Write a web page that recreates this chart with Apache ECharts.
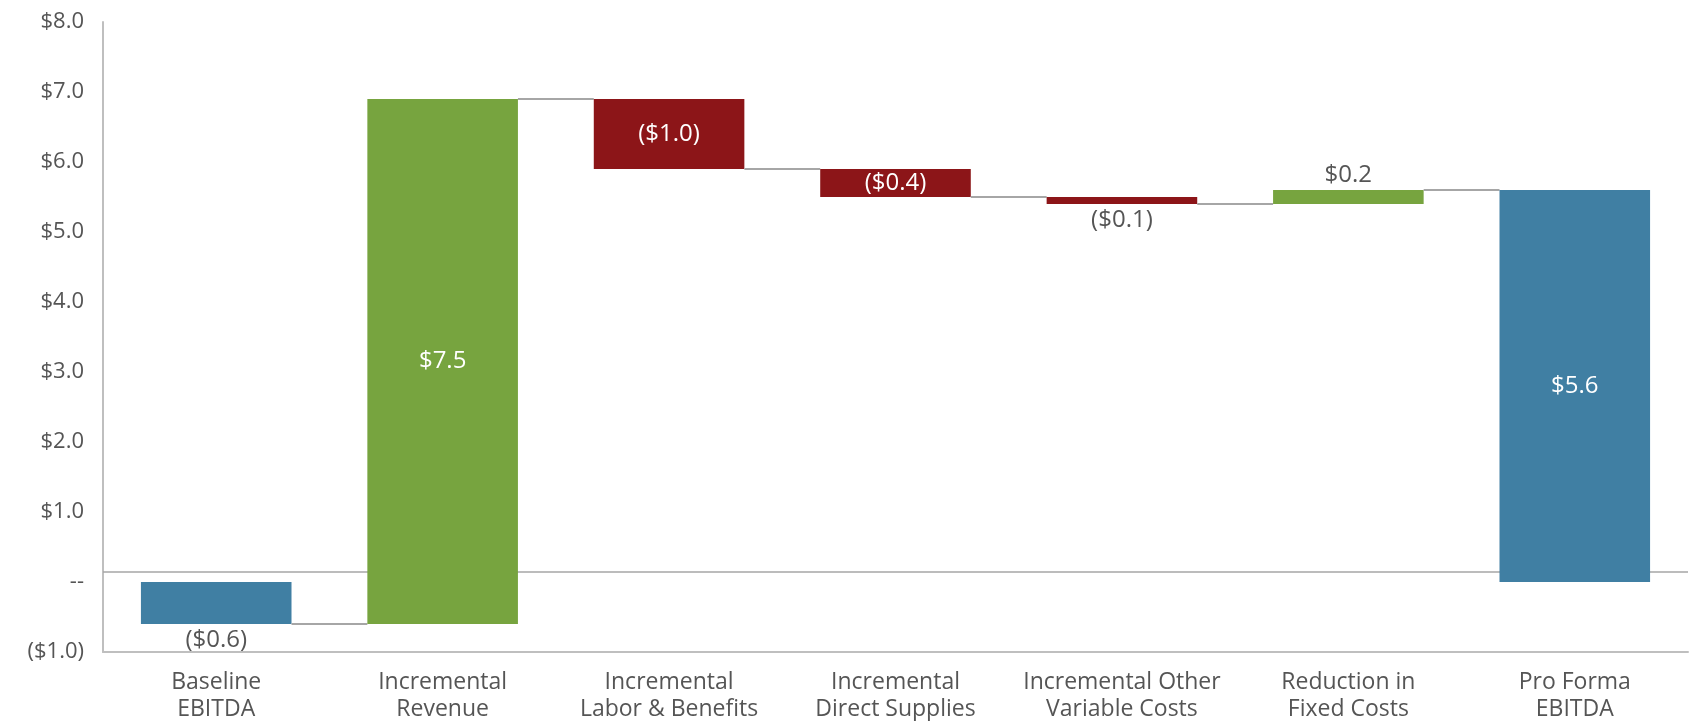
<!DOCTYPE html>
<html>
<head>
<meta charset="utf-8">
<script src="https://cdn.jsdelivr.net/npm/echarts@6/dist/echarts.min.js"></script>
<style>
html,body{margin:0;padding:0;background:#fff;}
#chart{width:1699px;height:721px;}
</style>
</head>
<body>
<div id="chart"></div>
<script>
// ---- data ----
const categories = ['Baseline\nEBITDA', 'Incremental\nRevenue', 'Incremental\nLabor & Benefits', 'Incremental\nDirect Supplies', 'Incremental Other\nVariable Costs', 'Reduction in\nFixed Costs', 'Pro Forma\nEBITDA'];
const values = [-0.6, 7.5, -1.0, -0.4, -0.1, 0.2, 5.6];
const kinds = ['total', 'delta', 'delta', 'delta', 'delta', 'delta', 'total'];
const labelPlacement = ['below', 'inside', 'inside', 'inside', 'below', 'above', 'inside'];
const yTicks = { min: -1, max: 8, interval: 1 };
const refLineValue = [0.14];

// ---- styling ----
const COLORS = { total: '#407FA3', up: '#77A43F', down: '#8C1518' };
const TEXT = '#555555';
const FONT = '"Open Sans", "Noto Sans", sans-serif';

// build waterfall rows: [index, low, high, endLevel, value]
let running = 0;
const rows = values.map((v, i) => {
  let lo, hi, end;
  if (kinds[i] === 'total') {
    lo = Math.min(0, v); hi = Math.max(0, v); end = v; running = v;
  } else {
    const start = running; end = running + v; running = end;
    lo = Math.min(start, end); hi = Math.max(start, end);
  }
  return [i, lo, hi, end, v];
});

function fmt(v) {
  return v < 0 ? '($' + Math.abs(v).toFixed(1) + ')' : '$' + v.toFixed(1);
}
function yFmt(v) {
  if (Math.abs(v) < 1e-9) return '--';
  return fmt(v);
}

const BAR_RATIO = 0.665;

function renderItem(params, api) {
  const i = api.value(0);
  const lo = api.value(1), hi = api.value(2), end = api.value(3), v = api.value(4);
  const pTop = api.coord([i, hi]);
  const pBot = api.coord([i, lo]);
  const bw = api.size([1, 0])[0] * BAR_RATIO;
  const x = pTop[0] - bw / 2;
  let fill;
  if (kinds[i] === 'total') fill = COLORS.total;
  else fill = v >= 0 ? COLORS.up : COLORS.down;
  const children = [{
    type: 'rect',
    shape: { x: x, y: pTop[1], width: bw, height: Math.max(pBot[1] - pTop[1], 1) },
    style: { fill: fill }
  }];
  if (i < categories.length - 1) {
    const yl = api.coord([i, end])[1];
    const nx = api.coord([i + 1, end])[0] - bw / 2;
    children.push({
      type: 'line',
      shape: { x1: x + bw, y1: yl, x2: nx, y2: yl },
      style: { stroke: '#A6A6A6', lineWidth: 2 }
    });
  }
  const place = labelPlacement[i];
  let ty, color;
  if (place === 'inside') { ty = (pTop[1] + pBot[1]) / 2; color = '#FFFFFF'; }
  else if (place === 'below') { ty = pBot[1] + 16; color = TEXT; }
  else { ty = pTop[1] - 15; color = TEXT; }
  children.push({
    type: 'text',
    style: {
      text: fmt(v), x: pTop[0], y: ty, align: 'center', verticalAlign: 'middle',
      fill: color, font: '24px ' + FONT
    },
    z2: 10
  });
  return { type: 'group', children: children };
}

const chart = echarts.init(document.getElementById('chart'), null, { renderer: 'canvas' });
chart.setOption({
  animation: false,
  backgroundColor: '#ffffff',
  grid: { left: 103, right: 11, top: 22, bottom: 69, containLabel: false, outerBoundsMode: 'none' },
  xAxis: {
    type: 'category',
    data: categories,
    axisLine: { onZero: false, lineStyle: { color: '#BFBFBF', width: 2 } },
    axisTick: { show: false },
    axisLabel: { interval: 0, color: TEXT, fontSize: 23, lineHeight: 27, margin: 17, fontFamily: FONT }
  },
  yAxis: {
    type: 'value',
    min: yTicks.min, max: yTicks.max, interval: yTicks.interval,
    axisLine: { show: true, lineStyle: { color: '#BFBFBF', width: 2 } },
    axisTick: { show: false },
    splitLine: { show: false },
    axisLabel: { color: TEXT, fontSize: 22, margin: 19, fontFamily: FONT, formatter: yFmt }
  },
  series: [{
    type: 'line',
    z: 1,
    data: [],
    silent: true,
    markLine: {
      silent: true,
      z: 1,
      symbol: 'none',
      label: { show: false },
      lineStyle: { color: '#A6A6A6', width: 1.5, type: 'solid' },
      data: refLineValue.map(v => ({ yAxis: v }))
    }
  }, {
    type: 'custom',
    z: 3,
    renderItem: renderItem,
    data: rows,
    encode: { x: 0, y: [1, 2] }
  }]
});
</script>
</body>
</html>
